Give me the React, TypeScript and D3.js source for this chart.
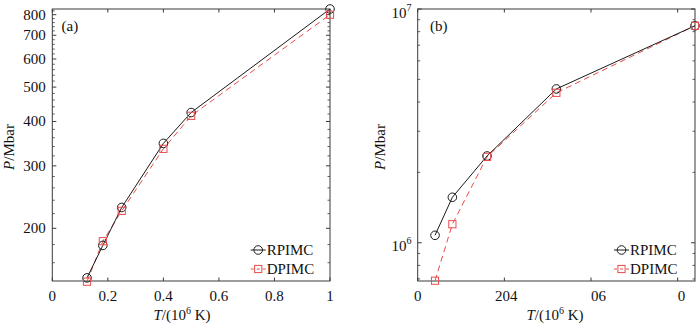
import React from "react";
import * as d3 from "d3";

// ---- data ----
const tempA = [0.125, 0.182, 0.25, 0.4, 0.5, 1.0];
const rpimcA = [145, 179, 229, 347, 424, 830];
const dpimcA = [141.5, 184, 224, 335, 415, 800];

const tempB = [20, 40, 80, 160, 320];
const rpimcB = [1.076e6, 1.565e6, 2.35e6, 4.55e6, 8.48e6];
const dpimcB = [6.88e5, 1.2e6, 2.33e6, 4.38e6, 8.48e6];

const xTicksA = [0, 0.2, 0.4, 0.6, 0.8, 1];
const xTickLabelsA = ["0", "0.2", "0.4", "0.6", "0.8", "1"];
const yTicksA = [200, 300, 400, 500, 600, 700, 800];
const yTickLabelsA = ["200", "300", "400", "500", "600", "700", "800"];

const xTicksB = [0, 100, 200, 300];
const xTickLabelsB = ["0", "204", "06", "0"];
const yTicksB = [1e6, 1e7];
const yTickExpB = ["6", "7"];

const seriesNames = ["RPIMC", "DPIMC"];

const BLACK = "#1a1a1a";
const RED = "#e84b4b";
const AXIS = "#3a3a3a";
const FONT = "Liberation Serif, Times New Roman, DejaVu Serif, serif";
const TXT: React.CSSProperties = { fontFamily: FONT, fontSize: "15px" };

function Circle({ cx, cy }: { cx: number; cy: number }) {
  return <circle cx={cx} cy={cy} r={4.3} fill="none" stroke={BLACK} strokeWidth={1} />;
}
function Square({ cx, cy }: { cx: number; cy: number }) {
  return <rect x={cx - 3.6} y={cy - 3.6} width={7.2} height={7.2} fill="none" stroke={RED} strokeWidth={1} />;
}

function Legend({ x, y }: { x: number; y: number }) {
  return (
    <g>
      <line x1={x} x2={x + 15} y1={y} y2={y} stroke={BLACK} strokeWidth={1} />
      <Circle cx={x + 7.5} cy={y} />
      <text x={x + 16} y={y + 5.2} fill="#111" style={TXT}>{seriesNames[0]}</text>
      <line x1={x} x2={x + 15} y1={y + 19} y2={y + 19} stroke={RED} strokeWidth={1} strokeDasharray="3,3" />
      <Square cx={x + 7.5} cy={y + 19} />
      <text x={x + 16} y={y + 24.2} fill="#111" style={TXT}>{seriesNames[1]}</text>
    </g>
  );
}

export default function App() {
  const xA = d3.scaleLinear().domain([0, 1]).range([52.3, 330]);
  const yA = d3.scaleLog().domain([142.1, 830]).range([281, 9]);
  const xB = d3.scaleLinear().domain([0, 320]).range([417.7, 695]);
  const yB = d3.scaleLog().domain([6.86e5, 1e7]).range([281, 9]);

  const lineA = d3.line<number>().x((d, i) => xA(tempA[i])).y((d) => yA(d));
  const lineB = d3.line<number>().x((d, i) => xB(tempB[i])).y((d) => yB(d));

  const minorA = d3.range(160, 821, 20).filter((v) => v % 100 !== 0);
  const minorB: number[] = [];
  [1e5, 1e6].forEach((dec) => {
    for (let k = 2; k <= 9; k++) {
      const v = k * dec;
      if (v >= 6.86e5 && v <= 1e7) minorB.push(v);
    }
  });

  const [aL, aR] = xA.range();
  const [aB, aT] = yA.range();
  const [bL, bR] = xB.range();
  const [bB, bT] = yB.range();

  return (
    <svg width={700} height={327} style={{ position: "absolute", left: 0, top: 0, background: "#fff" }}>
      {/* ===== Panel A ===== */}
      <g>
        {minorA.map((v) => (
          <g key={"ma" + v}>
            <line x1={aL} x2={aL + 2.5} y1={yA(v)} y2={yA(v)} stroke={AXIS} strokeWidth={0.8} />
            <line x1={aR} x2={aR - 2.5} y1={yA(v)} y2={yA(v)} stroke={AXIS} strokeWidth={0.8} />
          </g>
        ))}
        {yTicksA.map((v, i) => (
          <g key={"ya" + v}>
            <line x1={aL} x2={aL + 4} y1={yA(v)} y2={yA(v)} stroke={AXIS} strokeWidth={1} />
            <line x1={aR} x2={aR - 4} y1={yA(v)} y2={yA(v)} stroke={AXIS} strokeWidth={1} />
            <text x={aL - 6.5} y={yA(v) + 5} textAnchor="end" fill="#111" style={TXT}>
              {yTickLabelsA[i]}
            </text>
          </g>
        ))}
        {xTicksA.map((v, i) => (
          <g key={"xa" + v}>
            <line x1={xA(v)} x2={xA(v)} y1={aB} y2={aB - 3.5} stroke={AXIS} strokeWidth={1} />
            <line x1={xA(v)} x2={xA(v)} y1={aT} y2={aT + 3.5} stroke={AXIS} strokeWidth={1} />
            <text x={xA(v)} y={301} textAnchor="middle" fill="#111" style={TXT}>
              {xTickLabelsA[i]}
            </text>
          </g>
        ))}
        <rect x={aL} y={aT} width={aR - aL} height={aB - aT} fill="none" stroke={AXIS} strokeWidth={1} />
        <path d={lineA(dpimcA) || ""} fill="none" stroke={RED} strokeWidth={1} strokeDasharray="6,4" />
        <path d={lineA(rpimcA) || ""} fill="none" stroke={BLACK} strokeWidth={1} />
        {rpimcA.map((v, i) => <Circle key={"ca" + i} cx={xA(tempA[i])} cy={yA(v)} />)}
        {dpimcA.map((v, i) => <Square key={"sa" + i} cx={xA(tempA[i])} cy={yA(v)} />)}
        <text x={61.5} y={30.5} fill="#111" style={TXT}>(a)</text>
        <Legend x={250.7} y={250} />
        <text x={182} y={320} textAnchor="middle" fill="#111" style={TXT}>
          <tspan fontStyle="italic">T</tspan>/(10
          <tspan style={{ fontSize: "10px" }} dy={-6}>6</tspan>
          <tspan dy={6}> K)</tspan>
        </text>
        <text transform="translate(13.5,147) rotate(-90)" textAnchor="middle" fill="#111" style={TXT}>
          <tspan fontStyle="italic">P</tspan>/Mbar
        </text>
      </g>

      {/* ===== Panel B ===== */}
      <g>
        {minorB.map((v) => (
          <g key={"mb" + v}>
            <line x1={bL} x2={bL + 2.5} y1={yB(v)} y2={yB(v)} stroke={AXIS} strokeWidth={0.8} />
            <line x1={bR} x2={bR - 2.5} y1={yB(v)} y2={yB(v)} stroke={AXIS} strokeWidth={0.8} />
          </g>
        ))}
        {yTicksB.map((v, i) => (
          <g key={"yb" + v}>
            <line x1={bL} x2={bL + 4} y1={yB(v)} y2={yB(v)} stroke={AXIS} strokeWidth={1} />
            <line x1={bR} x2={bR - 4} y1={yB(v)} y2={yB(v)} stroke={AXIS} strokeWidth={1} />
            <text x={411.5} y={yB(v) + 8.5} textAnchor="end" fill="#111" style={TXT}>
              10<tspan style={{ fontSize: "10px" }} dy={-7}>{yTickExpB[i]}</tspan>
            </text>
          </g>
        ))}
        {xTicksB.map((v, i) => (
          <g key={"xb" + v}>
            <line x1={xB(v)} x2={xB(v)} y1={bB} y2={bB - 3.5} stroke={AXIS} strokeWidth={1} />
            <line x1={xB(v)} x2={xB(v)} y1={bT} y2={bT + 3.5} stroke={AXIS} strokeWidth={1} />
            <text
              x={i === 1 ? xB(v) + 2 : xB(v)}
              y={301}
              textAnchor={i <= 1 ? "middle" : "start"}
              fill="#111"
              style={TXT}
            >
              {xTickLabelsB[i]}
            </text>
          </g>
        ))}
        <rect x={bL} y={bT} width={bR - bL} height={bB - bT} fill="none" stroke={AXIS} strokeWidth={1} />
        <path d={lineB(dpimcB) || ""} fill="none" stroke={RED} strokeWidth={1} strokeDasharray="6,4" />
        <path d={lineB(rpimcB) || ""} fill="none" stroke={BLACK} strokeWidth={1} />
        {rpimcB.map((v, i) => <Circle key={"cb" + i} cx={xB(tempB[i])} cy={yB(v)} />)}
        {dpimcB.map((v, i) => <Square key={"sb" + i} cx={xB(tempB[i])} cy={yB(v)} />)}
        <text x={430} y={30.5} fill="#111" style={TXT}>(b)</text>
        <Legend x={614} y={250} />
        <text x={555} y={320} textAnchor="middle" fill="#111" style={TXT}>
          <tspan fontStyle="italic">T</tspan>/(10
          <tspan style={{ fontSize: "10px" }} dy={-6}>6</tspan>
          <tspan dy={6}> K)</tspan>
        </text>
        <text transform="translate(385,147) rotate(-90)" textAnchor="middle" fill="#111" style={TXT}>
          <tspan fontStyle="italic">P</tspan>/Mbar
        </text>
      </g>
    </svg>
  );
}
